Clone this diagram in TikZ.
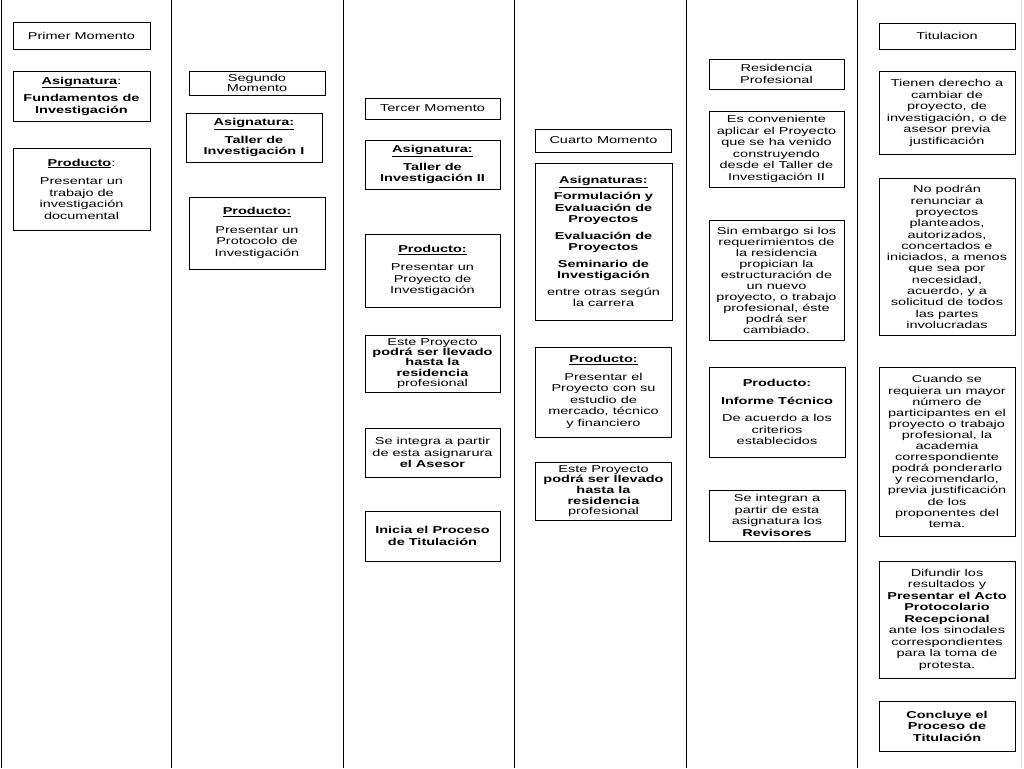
\documentclass[tikz,border=0pt]{standalone}
\usepackage{fontspec}
\setmainfont[FakeStretch=1.45]{Liberation Sans}
\begin{document}
\begin{tikzpicture}[x=1pt,y=-1pt,
  box/.style={draw, line width=0.9pt, align=center, inner sep=0.5pt,
    font=\fontsize{10}{11.5}\selectfont},
  tight/.style={font=\fontsize{10}{#1}\selectfont},
  lane/.style={line width=1pt, black}]
\useasboundingbox (0,0) rectangle (1024,768);
% column separators
\draw[lane] (1.5,0) -- (1.5,768);
\draw[lane] (171,0) -- (171,768);
\draw[lane] (343,0) -- (343,768);
\draw[lane] (514,0) -- (514,768);
\draw[lane] (686,0) -- (686,768);
\draw[lane] (857,0) -- (857,768);
\draw[line width=0.8pt, black!12] (1021,0) -- (1021,768);
% Column 1
\node[box, minimum width=137, minimum height=27] (c1a) at (81.5,35.5) {Primer Momento};
\node[box, minimum width=137, minimum height=50] (c1b) at (81.5,96) {\underline{\textbf{Asignatura}}:\\[6pt]\textbf{Fundamentos de}\\\textbf{Investigación}};
\node[box, minimum width=137, minimum height=82] (c1c) at (81.5,189) {\underline{\textbf{Producto}}:\\[7pt]Presentar un\\trabajo de\\investigación\\documental};
% Column 2
\node[box, minimum width=136, minimum height=24] (c2a) at (257,83) {Segundo\\[-1.5pt]Momento};
\node[box, minimum width=136, minimum height=49] (c2b) at (254,137.5) {\underline{\textbf{Asignatura:}}\\[6pt]\textbf{Taller de}\\\textbf{Investigación I}};
\node[box, minimum width=136, minimum height=72] (c2c) at (257,233) {\underline{\textbf{Producto:}}\\[7pt]Presentar un\\Protocolo de\\Investigación};
% Column 3
\node[box, minimum width=135, minimum height=21] (c3a) at (432.5,108.5) {Tercer Momento};
\node[box, minimum width=135, minimum height=49] (c3b) at (432.5,164.5) {\underline{\textbf{Asignatura:}}\\[6pt]\textbf{Taller de}\\\textbf{Investigación II}};
\node[box, minimum width=135, minimum height=73] (c3c) at (432.5,270.5) {\underline{\textbf{Producto:}}\\[7pt]Presentar un\\Proyecto de\\Investigación};
\node[box, tight=10.4, minimum width=135, minimum height=57] (c3d) at (432.5,363.5) {Este Proyecto\\\textbf{podrá ser llevado}\\\textbf{hasta la}\\\textbf{residencia}\\profesional};
\node[box, minimum width=135, minimum height=49] (c3e) at (432.5,452.5) {Se integra a partir\\de esta asignarura\\\textbf{el Asesor}};
\node[box, minimum width=135, minimum height=50] (c3f) at (432.5,536) {\textbf{Inicia el Proceso}\\\textbf{de Titulación}};
% Column 4
\node[box, minimum width=136, minimum height=23] (c4a) at (603.5,140.5) {Cuarto Momento};
\node[box, minimum width=137, minimum height=157] (c4b) at (603.5,241.5) {\underline{\textbf{Asignaturas:}}\\[5pt]\textbf{Formulación y}\\\textbf{Evaluación de}\\\textbf{Proyectos}\\[5pt]\textbf{Evaluación de}\\\textbf{Proyectos}\\[5pt]\textbf{Seminario de}\\\textbf{Investigación}\\[5pt]entre otras según\\la carrera};
\node[box, minimum width=136, minimum height=90] (c4c) at (603.5,392) {\underline{\textbf{Producto:}}\\[6pt]Presentar el\\Proyecto con su\\estudio de\\mercado, técnico\\y financiero};
\node[box, tight=10.6, minimum width=136, minimum height=58] (c4d) at (603.5,491) {Este Proyecto\\\textbf{podrá ser llevado}\\\textbf{hasta la}\\\textbf{residencia}\\profesional};
% Column 5
\node[box, minimum width=135, minimum height=30] (c5a) at (776.5,74) {Residencia\\Profesional};
\node[box, minimum width=135, minimum height=76] (c5b) at (776.5,149) {Es conveniente\\aplicar el Proyecto\\que se ha venido\\construyendo\\desde el Taller de\\Investigación II};
\node[box, tight=11, minimum width=135, minimum height=120] (c5c) at (776.5,280) {Sin embargo si los\\requerimientos de\\la residencia\\propician la\\estructuración de\\un nuevo\\proyecto, o trabajo\\profesional, éste\\podrá ser\\cambiado.};
\node[box, minimum width=136, minimum height=90] (c5d) at (777,412) {\textbf{Producto:}\\[6pt]\textbf{Informe Técnico}\\[6pt]De acuerdo a los\\criterios\\establecidos};
\node[box, minimum width=136, minimum height=51] (c5e) at (777,515.5) {Se integran a\\partir de esta\\asignatura los\\\textbf{Revisores}};
% Column 6
\node[box, minimum width=136, minimum height=26] (c6a) at (947,36) {Titulacion};
\node[box, minimum width=136, minimum height=83] (c6b) at (947,113) {Tienen derecho a\\cambiar de\\proyecto, de\\investigación, o de\\asesor previa\\justificación};
\node[box, tight=11.3, minimum width=136, minimum height=157] (c6c) at (947,257) {No podrán\\renunciar a\\proyectos\\planteados,\\autorizados,\\concertados e\\iniciados, a menos\\que sea por\\necesidad,\\acuerdo, y a\\solicitud de todos\\las partes\\involucradas};
\node[box, tight=11.1, minimum width=136, minimum height=169] (c6d) at (947,451.5) {Cuando se\\requiera un mayor\\número de\\participantes en el\\proyecto o trabajo\\profesional, la\\academia\\correspondiente\\podrá ponderarlo\\y recomendarlo,\\previa justificación\\de los\\proponentes del\\tema.};
\node[box, minimum width=136, minimum height=117] (c6e) at (947,619.5) {Difundir los\\resultados y\\\textbf{Presentar el Acto}\\\textbf{Protocolario}\\\textbf{Recepcional}\\ante los sinodales\\correspondientes\\para la toma de\\protesta.};
\node[box, minimum width=136, minimum height=50] (c6f) at (947,726) {\textbf{Concluye el}\\\textbf{Proceso de}\\\textbf{Titulación}};
\end{tikzpicture}
\end{document}
